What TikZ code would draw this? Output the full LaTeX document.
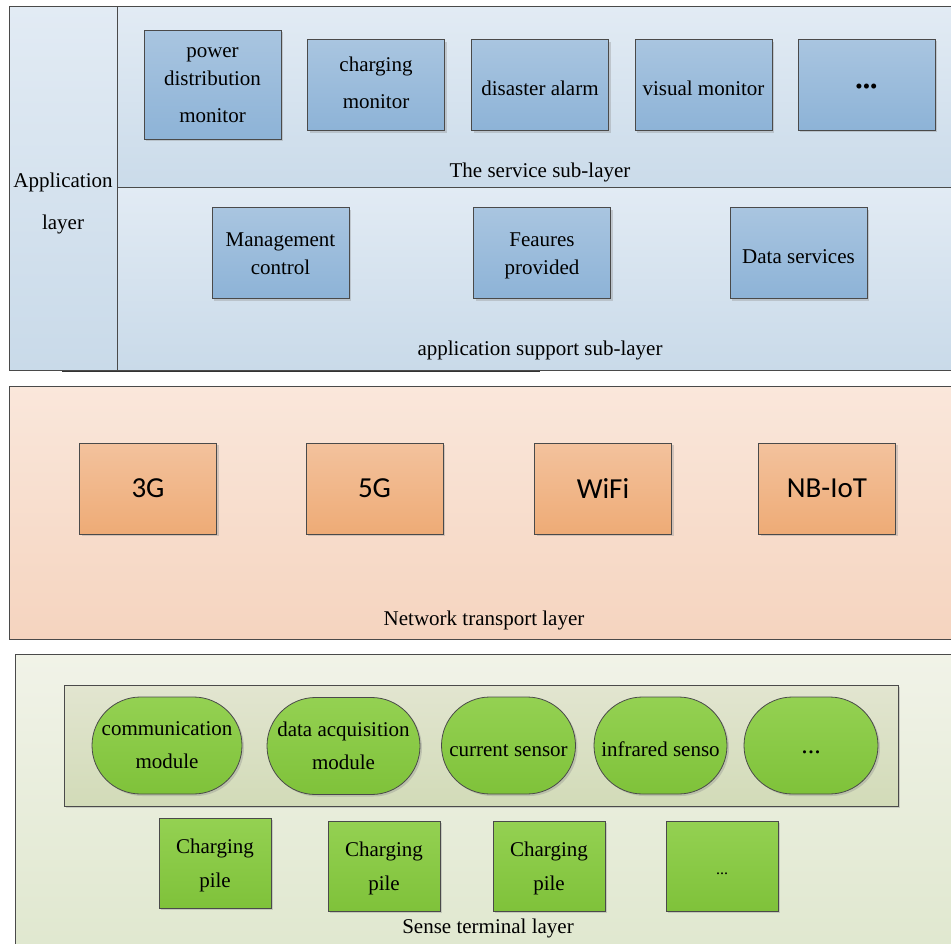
\documentclass[tikz,border=0pt]{standalone}
\usepackage{fontspec}
\setmainfont{Liberation Serif}
\newfontfamily\calib{Carlito}
\usetikzlibrary{shadows,shapes.misc}
\definecolor{edge}{HTML}{4A4A4A}
\definecolor{apptop}{HTML}{E2EBF4}
\definecolor{appbot}{HTML}{C9DAE9}
\definecolor{bluetop}{HTML}{A9C5E0}
\definecolor{bluebot}{HTML}{8DB3D7}
\definecolor{nettop}{HTML}{FAE7DB}
\definecolor{netbot}{HTML}{F5D4BF}
\definecolor{orgtop}{HTML}{F3C29D}
\definecolor{orgbot}{HTML}{EEAB76}
\definecolor{sentop}{HTML}{F1F3E8}
\definecolor{senbot}{HTML}{DFE7CE}
\definecolor{conttop}{HTML}{E2E5D0}
\definecolor{contbot}{HTML}{D2DBB8}
\definecolor{grntop}{HTML}{94D152}
\definecolor{grnbot}{HTML}{7FC23A}
\newcommand\tfont{\fontsize{21}{28}\selectfont}
\newcommand\nfont{\calib\fontsize{29}{34}\selectfont}
\newcommand\hup[1]{\rule{0pt}{#1}}
\newcommand\hdn[1]{\rule[-#1]{0pt}{0pt}}
\tikzset{
  layerbox/.style={draw=edge, line width=0.9pt},
  shad/.style={drop shadow={shadow xshift=2pt, shadow yshift=-2pt, fill=black!45, opacity=0.35}},
  svcbox/.style={draw=edge, line width=0.8pt, top color=bluetop, bottom color=bluebot,
    minimum width=137pt, minimum height=91pt, align=center, inner sep=1pt, shad, font=\tfont},
  netbox/.style={draw=edge, line width=0.8pt, top color=orgtop, bottom color=orgbot,
    minimum width=137pt, minimum height=91pt, inner sep=1pt, shad, font=\nfont},
  pill/.style={rounded rectangle, draw=edge, line width=0.8pt, top color=grntop, bottom color=grnbot,
    minimum height=97pt, align=center, inner sep=1pt, shad, font=\tfont},
  pilebox/.style={draw=edge, line width=0.8pt, top color=grntop, bottom color=grnbot,
    minimum width=112pt, minimum height=90pt, align=center, inner sep=1pt, shad, font=\tfont},
  oneline/.style={text height=#1, text depth=0pt},
  lbl/.style={font=\tfont, inner sep=0pt}
}
\begin{document}
\begin{tikzpicture}[x=1pt,y=-1pt]
\useasboundingbox (0,0) rectangle (951,943);
% application layer
\draw[line width=1.6pt, draw=black!80] (62,371) -- (540,371);
\draw[layerbox, top color=apptop, bottom color=appbot] (9,6) rectangle (117,370);
\draw[layerbox, top color=apptop, bottom color=appbot!95!apptop] (117,6) rectangle (956,187);
\draw[layerbox, top color=apptop, bottom color=appbot] (117,187) rectangle (956,370);
\node[lbl] (applbl1) at (63,182) {Application};
\node[lbl] (applbl2) at (63,224) {layer};
\node[svcbox, minimum height=109pt] (pdm) at (212.5,84.5) {\hup{12pt}power\\distribution\\[9pt]monitor};
\node[svcbox] (chm) at (376,85) {charging\\[9pt]monitor\hdn{5pt}};
\node[svcbox, oneline=20pt] (dis) at (540,85) {disaster alarm};
\node[svcbox, oneline=20pt] (vis) at (703.5,85) {visual monitor};
\node[svcbox, oneline=17pt] (more1) at (866.5,84.5) {\textbullet\textbullet\textbullet};
\node[lbl] (svclbl) at (540,172) {The service sub-layer};
\node[svcbox] (mgc) at (280.5,253) {\hup{16pt}Management\\control};
\node[svcbox] (fea) at (542,253) {\hup{19pt}Feaures\\provided};
\node[svcbox, oneline=20pt] (dat) at (798.5,253) {Data services};
\node[lbl] (suplbl) at (540,350) {application support sub-layer};
% network layer
\draw[layerbox, top color=nettop, bottom color=netbot] (9,386) rectangle (956,639);
\node[netbox] (g3) at (148,488.5) {3G};
\node[netbox] (g5) at (374.5,488.5) {5G};
\node[netbox] (wifi) at (603,488.5) {WiFi};
\node[netbox] (nbiot) at (827,488.5) {NB-IoT};
\node[lbl] (netlbl) at (484,620) {Network transport layer};
% sense layer
\draw[layerbox, top color=sentop, bottom color=senbot] (15,654) rectangle (956,960);
\draw[layerbox, top color=conttop, bottom color=contbot, shad] (64,685) rectangle (898,806);
\node[pill, minimum width=152pt] (comm) at (167,745.5) {communication\\[5pt]module};
\node[pill, minimum width=155pt] (daq) at (343.5,746) {data acquisition\\[5pt]module};
\node[pill, minimum width=136pt, oneline=22pt] (cur) at (508.5,745.5) {current sensor};
\node[pill, minimum width=135pt, oneline=22pt] (inf) at (660.5,745.5) {infrared senso};
\node[pill, minimum width=136pt, oneline=15pt] (more2) at (811,745.5) {\fontsize{26}{30}\selectfont ...};
\node[pilebox] (cp1) at (215,863) {\hup{20pt}Charging\\[6pt]pile};
\node[pilebox] (cp2) at (384,866) {\hup{20pt}Charging\\[6pt]pile};
\node[pilebox] (cp3) at (549,866) {\hup{20pt}Charging\\[6pt]pile};
\node[pilebox, oneline=16pt] (cp4) at (722,866) {\fontsize{16}{20}\selectfont ...};
\node[lbl] (senlbl) at (488,928) {Sense terminal layer};
\end{tikzpicture}
\end{document}
